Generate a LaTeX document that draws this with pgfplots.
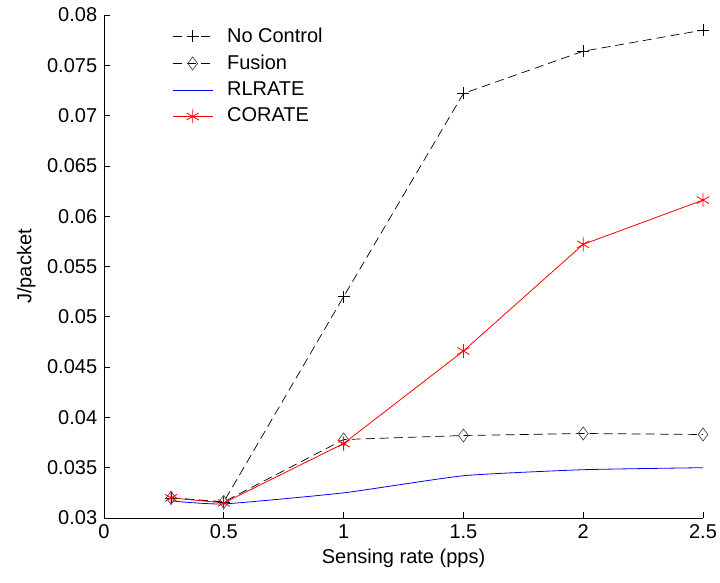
\documentclass[border=0pt]{standalone}
\usepackage{fontspec}
\setmainfont{Liberation Sans}
\usepackage{pgfplots}
\pgfplotsset{compat=1.18}
\usetikzlibrary{calc}
\begin{document}
\fontsize{20}{24}\selectfont
\begin{tikzpicture}
\begin{axis}[
  name=ax,
  scale only axis,
  width=599pt, height=503pt,
  xmin=0, xmax=2.5, ymin=0.03, ymax=0.08,
  axis lines=left,
  axis line style={-, black, line width=0.6pt},
  tick align=inside,
  major tick length=6pt,
  tick style={black, line width=0.6pt},
  xtick={0,0.5,1,1.5,2,2.5},
  ytick={0.03,0.035,0.04,0.045,0.05,0.055,0.06,0.065,0.07,0.075,0.08},
  scaled y ticks=false,
  scaled x ticks=false,
  yticklabel style={/pgf/number format/fixed,/pgf/number format/precision=3},
  /pgf/number format/assume math mode=true,
  ticklabel style={font=\fontsize{20}{24}\selectfont},
  label style={font=\fontsize{20}{24}\selectfont},
  xlabel={Sensing rate (pps)},
  ylabel={J/packet},
  xlabel style={yshift=4pt},
  ylabel style={yshift=-2pt},
  legend style={draw=none, fill=none, at={(rel axis cs:0.112,0.981)}, anchor=north west,
    font=\fontsize{20}{24}\selectfont, row sep=5.5pt, inner sep=1pt,
    /tikz/every odd column/.append style={column sep=12pt}},
  legend cell align=left,
  legend image code/.code={\draw[mark repeat=2,mark phase=2] plot coordinates {(0pt,0pt) (20pt,0pt) (40pt,0pt)};},
]
\addplot[black, line width=0.7pt, dash pattern=on 9pt off 5pt, mark=+, mark size=6pt, mark options={solid}]
coordinates {(0.28,0.0320) (0.5,0.0316) (1,0.0520) (1.5,0.0722) (2,0.0764) (2.5,0.0785)};
\addlegendentry{No Control}
\addplot[black, line width=0.7pt, dash pattern=on 9pt off 5pt, mark=diamond, mark size=6.5pt, mark options={solid, draw=black!70}]
coordinates {(0.28,0.0320) (0.5,0.0316) (1,0.0378) (1.5,0.0382) (2,0.0384) (2.5,0.0383)};
\addlegendentry{Fusion}
\addplot[blue, line width=0.8pt, smooth, tension=0.3]
coordinates {(0.28,0.0317) (0.5,0.0314) (1,0.0325) (1.5,0.0342) (2,0.0348) (2.5,0.0350)};
\addlegendentry{RLRATE}
\addplot[red, line width=0.8pt, mark=asterisk, mark size=7pt]
coordinates {(0.28,0.0320) (0.5,0.0315) (1,0.0374) (1.5,0.0466) (2,0.0572) (2.5,0.0616)};
\addlegendentry{CORATE}
\end{axis}
\pgfresetboundingbox
\path ($(ax.south west)+(-104pt,-65pt)$) rectangle ($(ax.north east)+(17pt,15pt)$);
\end{tikzpicture}
\end{document}
